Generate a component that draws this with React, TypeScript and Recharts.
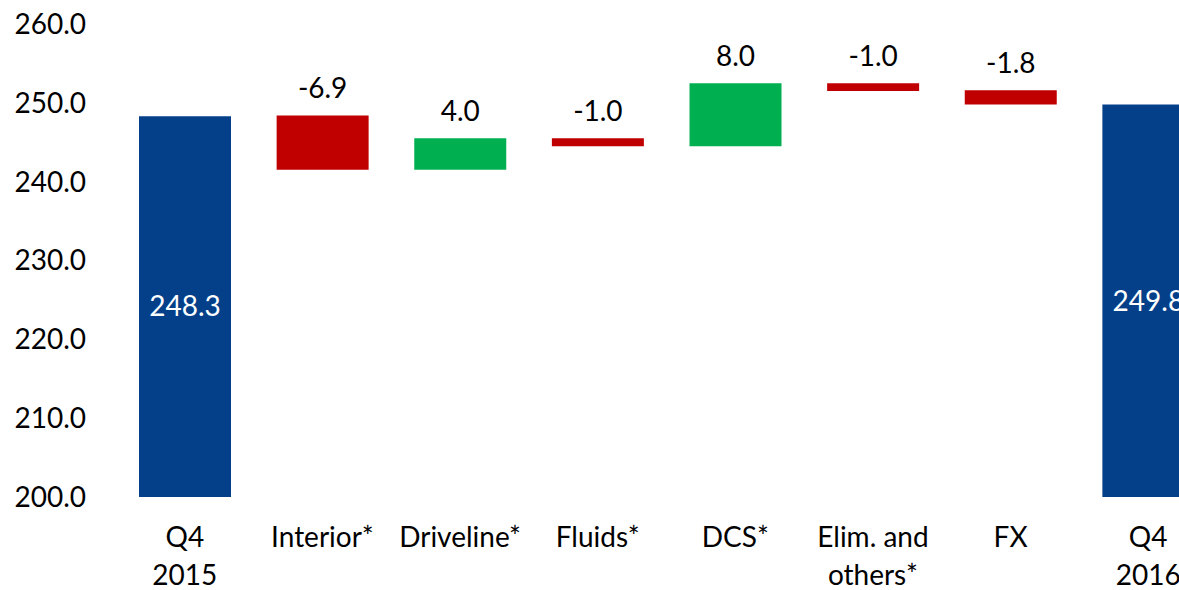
import React from "react";
import { BarChart, Bar, XAxis, YAxis, Cell, LabelList } from "recharts";

const categories = ["Q4\n2015", "Interior*", "Driveline*", "Fluids*", "DCS*", "Elim. and\nothers*", "FX", "Q4\n2016"];
const barLow = [200, 241.5, 241.5, 244.5, 244.5, 251.5, 249.8, 200];
const barHigh = [248.3, 248.4, 245.5, 245.5, 252.5, 252.5, 251.6, 249.8];
const valueLabels = ["248.3", "-6.9", "4.0", "-1.0", "8.0", "-1.0", "-1.8", "249.8"];
const kinds = ["total", "down", "up", "down", "up", "down", "down", "total"];
const yTicks = [200, 210, 220, 230, 240, 250, 260];

const COLORS: Record<string, string> = { total: "#043F8A", down: "#C00000", up: "#00B050" };
const FONT = "Lato, 'Open Sans', sans-serif";
const FS = 28;

const data = categories.map((c, i) => ({ name: c, range: [barLow[i], barHigh[i]], kind: kinds[i], label: valueLabels[i] }));

const XTick = (props: any) => {
  const { x, y, payload } = props;
  const lines = String(payload.value).split("\n");
  return (
    <g>
      {lines.map((l, i) => (
        <text key={i} x={x} y={y + 42 + i * 38} textAnchor="middle" fill="#000" fontFamily={FONT} fontSize={FS}>
          {l}
        </text>
      ))}
    </g>
  );
};

const BarLabel = (props: any) => {
  const { x, y, width, height, index } = props;
  const kind = kinds[index];
  const txt = valueLabels[index];
  if (kind === "total") {
    return (
      <text x={x + width / 2} y={y + height / 2} dy="0.35em" textAnchor="middle" fill="#fff" fontFamily={FONT} fontSize={FS}>
        {txt}
      </text>
    );
  }
  return (
    <text x={x + width / 2} y={y - 17} textAnchor="middle" fill="#000" fontFamily={FONT} fontSize={FS}>
      {txt}
    </text>
  );
};

export default function App() {
  return (
    <div>
      <style>{`body{margin:0;overflow:hidden}`}</style>
      <BarChart width={1217} height={590} data={data} margin={{ top: 24, right: 0, bottom: 0, left: 0 }} barSize={92}>
        <XAxis
          dataKey="name"
          axisLine={false}
          tickLine={false}
          height={93}
          interval={0}
          tick={<XTick />}
        />
        <YAxis
          domain={[200, 260]}
          ticks={yTicks}
          axisLine={false}
          tickLine={false}
          tickSize={0}
          tickMargin={30}
          width={116}
          allowDataOverflow
          tickFormatter={(v: number) => v.toFixed(1)}
          tick={{ fill: "#000", fontFamily: FONT, fontSize: FS }}
        />
        <Bar dataKey="range" isAnimationActive={false}>
          {data.map((d, i) => (
            <Cell key={i} fill={COLORS[d.kind]} />
          ))}
          <LabelList dataKey="label" content={<BarLabel />} />
        </Bar>
      </BarChart>
    </div>
  );
}
